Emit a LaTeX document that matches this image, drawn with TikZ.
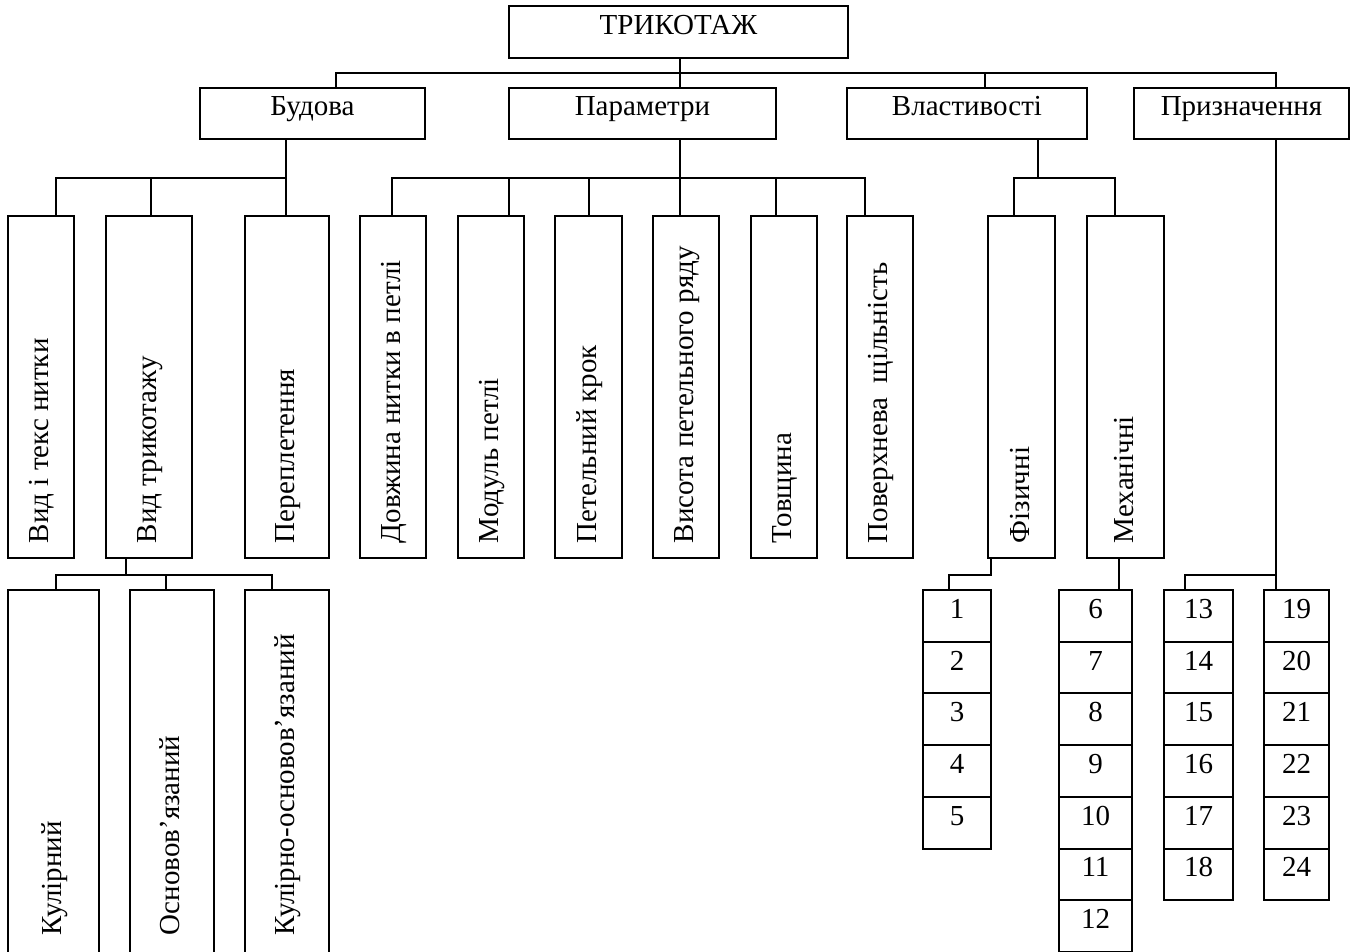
\documentclass[tikz,border=0pt]{standalone}
\usepackage{fontspec}
\setmainfont{Liberation Serif}
\usepackage{graphicx}
\newcommand{\uptext}[1]{\rotatebox{90}{\raisebox{0pt}[0.72em][0.18em]{#1}}}

\begin{document}
\begin{tikzpicture}[x=1pt,y=-1pt,line width=2pt,line cap=rect,
                font=\fontsize{29}{34}\selectfont,
                hbox/.style={draw,inner sep=0pt,text height=20pt,text depth=15pt},
                vbox/.style={draw,inner xsep=0pt,inner ysep=15pt,text height=312pt,text depth=0pt},
                lowbox/.style={draw,inner xsep=0pt,inner ysep=15pt,text height=330pt,text depth=10pt},
                cell/.style={hbox,minimum height=51.7pt}]
                \useasboundingbox (0,0) rectangle (1358,952);
                \clip (0,0) rectangle (1358,952);

                \node[hbox,minimum width=339pt,minimum height=52pt] (trik) at (678.5,32) {ТРИКОТАЖ};

                \node[hbox,minimum width=225pt,minimum height=51pt] (bud) at (312.5,113.5) {Будова};
                \node[hbox,minimum width=267pt,minimum height=51pt] (par) at (642.5,113.5) {Параметри};
                \node[hbox,minimum width=240pt,minimum height=51pt] (vl) at (967,113.5) {Властивості};
                \node[hbox,minimum width=215pt,minimum height=51pt] (pr) at (1241.5,113.5) {Призначення};

                \foreach \nm/\cx/\w/\txt in {vid1/41/66/{Вид і текс нитки},vid2/149/86/{Вид трикотажу},
                    perepl/287/84/{Переплетення},dovzh/393/66/{Довжина нитки в петлі},
                    modul/491/66/{Модуль петлі},krok/588.5/67/{Петельний крок},
                    vysota/686/66/{Висота петельного ряду},tovshch/784/66/{Товщина},
                    shchil/880/66/{Поверхнева\ \ щільність},fiz/1021.5/67/{Фізичні},mech/1125.5/77/{Механічні}} {
                    \node[vbox,minimum width=\w pt] (\nm) at (\cx,387) {\uptext{\txt}};
                }
                \foreach \nm/\cx/\w/\txt in {kul/53.5/91/{Кулірний},osn/172/84/{Основов’язаний},
                    kulosn/287/84/{Кулірно-основов’язаний}} {
                    \node[lowbox,minimum width=\w pt] (\nm) at (\cx,775) {\uptext{\txt}};
                }

                \foreach[count=\k from 0] \n in {1,...,5} {
                    \node[cell,minimum width=68pt] (c\n) at (957,615.85+\k*51.7) {\n};
                }
                \foreach[count=\k from 0] \n in {6,...,12} {
                    \node[cell,minimum width=73pt] (c\n) at (1095.5,615.85+\k*51.7) {\n};
                }
                \foreach[count=\k from 0] \n in {13,...,18} {
                    \node[cell,minimum width=69pt] (c\n) at (1198.5,615.85+\k*51.7) {\n};
                }
                \foreach[count=\k from 0] \n in {19,...,24} {
                    \node[cell,minimum width=65pt] (c\n) at (1296.5,615.85+\k*51.7) {\n};
                }

                \coordinate (t1) at (336,73);
                \coordinate (t2) at (680,73);
                \coordinate (t3) at (985,73);
                \coordinate (t4) at (1276,73);
                \draw (t1) -- (t4);
                \draw (trik.south -| t2) -- (par.north -| t2);
                \draw (t1) -- (bud.north -| t1);
                \draw (t3) -- (vl.north -| t3);
                \draw (t4) -- (pr.north -| t4);

                \coordinate (b0) at (286,178);
                \coordinate (b1) at (56,178);
                \coordinate (b2) at (151,178);
                \draw (bud.south -| b0) -- (b0);
                \draw (b1) -- (b0);
                \draw (b1) -- (vid1.north -| b1);
                \draw (b2) -- (vid2.north -| b2);
                \draw (b0) -- (perepl.north -| b0);

                \coordinate (p0) at (680,178);
                \coordinate (p1) at (392,178);
                \coordinate (p2) at (509,178);
                \coordinate (p3) at (589,178);
                \coordinate (p5) at (776,178);
                \coordinate (p6) at (865,178);
                \draw (par.south -| p0) -- (p0);
                \draw (p1) -- (p6);
                \draw (p1) -- (dovzh.north -| p1);
                \draw (p2) -- (modul.north -| p2);
                \draw (p3) -- (krok.north -| p3);
                \draw (p0) -- (vysota.north -| p0);
                \draw (p5) -- (tovshch.north -| p5);
                \draw (p6) -- (shchil.north -| p6);

                \coordinate (v0) at (1038,178);
                \coordinate (v1) at (1014,178);
                \coordinate (v2) at (1115,178);
                \draw (vl.south -| v0) -- (v0);
                \draw (v1) -- (v2);
                \draw (v1) -- (fiz.north -| v1);
                \draw (v2) -- (mech.north -| v2);

                \coordinate (k0) at (126,575);
                \coordinate (k1) at (56,575);
                \coordinate (k2) at (166,575);
                \coordinate (k3) at (272,575);
                \draw (vid2.south -| k0) -- (k0);
                \draw (k1) -- (k3);
                \draw (k1) -- (kul.north -| k1);
                \draw (k2) -- (osn.north -| k2);
                \draw (k3) -- (kulosn.north -| k3);

                \coordinate (f0) at (991,575);
                \coordinate (f1) at (949,575);
                \draw (fiz.south -| f0) -- (f0) -- (f1) -- (c1.north -| f1);

                \coordinate (m0) at (1119,575);
                \draw (mech.south -| m0) -- (c6.north -| m0);

                \coordinate (z0) at (1276,575);
                \coordinate (z1) at (1185,575);
                \draw (pr.south -| t4) -- (c19.north -| t4);
                \draw (z1) -- (z0);
                \draw (z1) -- (c13.north -| z1);
            \end{tikzpicture}
\end{document}
